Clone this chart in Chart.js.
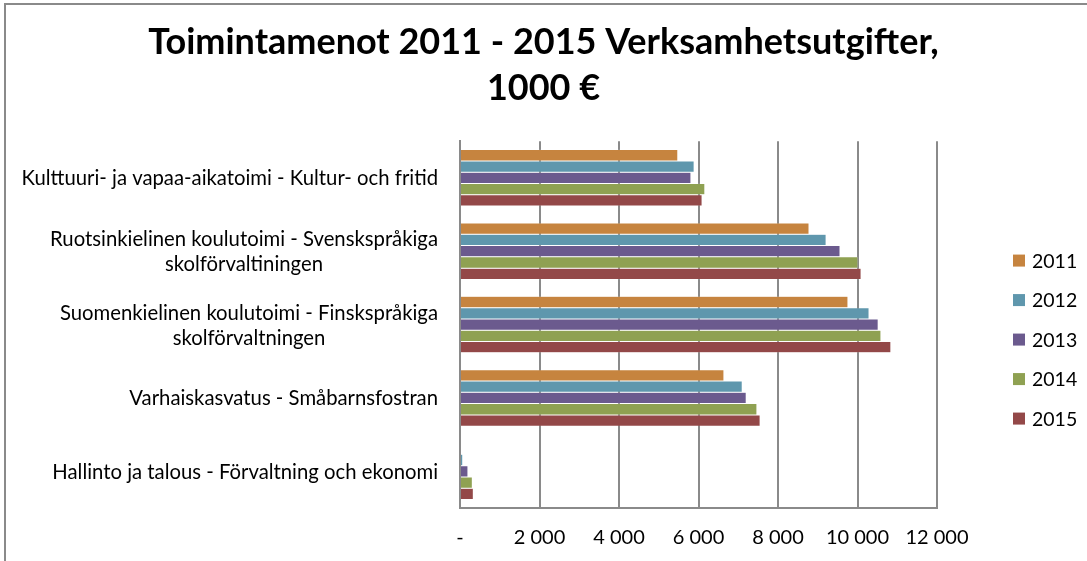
<!DOCTYPE html>
<html>
<head>
<meta charset="utf-8">
<script src="https://cdn.jsdelivr.net/npm/chart.js@4"></script>
<style>
  html, body { margin: 0; padding: 0; background: #fff; }
  #wrap { position: relative; width: 1087px; height: 561px; }
  #frame { position: absolute; left: 4px; top: 3px; right: 0; bottom: 0;
           border-left: 2px solid #8a8a8a; border-top: 2px solid #8a8a8a; pointer-events: none; }
</style>
</head>
<body>
<div id="wrap">
  <canvas id="chart" width="1087" height="561"></canvas>
  <div id="frame"></div>
</div>
<script>
var categories = [
  'Kulttuuri- ja vapaa-aikatoimi - Kultur- och fritid',
  ['Ruotsinkielinen koulutoimi - Svenskspråkiga', 'skolförvaltiningen'],
  ['Suomenkielinen koulutoimi - Finskspråkiga', 'skolförvaltningen'],
  'Varhaiskasvatus - Småbarnsfostran',
  'Hallinto ja talous - Förvaltning och ekonomi'
];
var years = ['2011', '2012', '2013', '2014', '2015'];
var v2011 = [5480, 8780, 9760, 6640, 0];
var v2012 = [5890, 9210, 10290, 7100, 70];
var v2013 = [5810, 9560, 10520, 7200, 200];
var v2014 = [6160, 10010, 10590, 7470, 310];
var v2015 = [6090, 10090, 10840, 7550, 335];
var colors = ['#c6843f', '#5f97ad', '#6b5a8e', '#8fa152', '#934848'];

var FONT = 'Lato, "Open Sans", sans-serif';

// category labels: block right-aligned to the axis, lines centred inside the block
var labelPlugin = {
  id: 'catLabels',
  afterDraw: function(chart) {
    var ctx = chart.ctx;
    var y = chart.scales.y;
    ctx.save();
    ctx.font = '20.3px ' + FONT;
    ctx.fillStyle = '#000';
    ctx.textAlign = 'center';
    ctx.textBaseline = 'middle';
    var right = y.right - 22;
    var lh = 25;
    categories.forEach(function(lab, i) {
      var lines = Array.isArray(lab) ? lab : [lab];
      var maxW = 0;
      lines.forEach(function(l) { maxW = Math.max(maxW, ctx.measureText(l).width); });
      var cx = right - maxW / 2;
      var py = y.getPixelForTick(i) + 1;
      var start = py - (lines.length - 1) * lh / 2;
      lines.forEach(function(l, k) { ctx.fillText(l, cx, start + k * lh); });
    });
    ctx.restore();
  }
};

// legend drawn at the right, like the original spreadsheet chart
var legendPlugin = {
  id: 'sideLegend',
  afterDraw: function(chart) {
    var ctx = chart.ctx;
    var a = chart.chartArea;
    var mid = (a.top + a.bottom) / 2 + 15;
    var step = 39.5;
    var x = a.right + 76;
    ctx.save();
    ctx.font = '19.5px ' + FONT;
    ctx.textBaseline = 'middle';
    ctx.textAlign = 'left';
    chart.data.datasets.forEach(function(ds, i) {
      var cy = mid + (i - 2) * step;
      ctx.fillStyle = ds.backgroundColor;
      ctx.fillRect(x, cy - 6, 12, 12);
      ctx.fillStyle = '#000';
      ctx.fillText(ds.label, x + 19, cy + 1);
    });
    ctx.restore();
  }
};

var ctx = document.getElementById('chart').getContext('2d');
var data = [v2011, v2012, v2013, v2014, v2015];
var chart = new Chart(ctx, {
  type: 'bar',
  data: {
    labels: categories,
    datasets: years.map(function(yr, i) {
      return {
        label: yr,
        data: data[i],
        backgroundColor: colors[i],
        borderColor: 'rgba(255,255,255,0.35)',
        borderWidth: 0.5,
        categoryPercentage: 0.77,
        barPercentage: 1.0
      };
    })
  },
  plugins: [labelPlugin, legendPlugin],
  options: {
    indexAxis: 'y',
    responsive: false,
    animation: false,
    layout: { padding: 0 },
    plugins: {
      title: {
        display: true,
        text: ['Toimintamenot 2011 - 2015 Verksamhetsutgifter,', '1000 €'],
        color: '#000',
        font: { family: FONT, size: 36, weight: 'bold', lineHeight: 1.28 },
        padding: { top: 19, bottom: 30 }
      },
      legend: { display: false },
      tooltip: { enabled: false }
    },
    scales: {
      x: {
        min: 0,
        max: 12000,
        afterFit: function(scale) { scale.height = 53; },
        ticks: {
          stepSize: 2000,
          color: '#000',
          padding: 18,
          font: { family: FONT, size: 20 },
          callback: function(v) {
            if (v === 0) return '-';
            return String(v).replace(/\B(?=(\d{3})+(?!\d))/g, ' ');
          }
        },
        grid: { color: '#8a8a8a', lineWidth: 2, drawTicks: false },
        border: { color: '#8a8a8a', width: 2 }
      },
      y: {
        afterFit: function(scale) { scale.width = 460; },
        ticks: { display: false },
        grid: { display: false },
        border: { color: '#8a8a8a', width: 2 }
      },
      // empty right-hand axis only reserves room for the legend
      side: {
        axis: 'y',
        position: 'right',
        display: true,
        afterFit: function(scale) { scale.width = 150; },
        ticks: { display: false },
        grid: { display: false },
        border: { display: false }
      }
    }
  }
});
</script>
</body>
</html>
